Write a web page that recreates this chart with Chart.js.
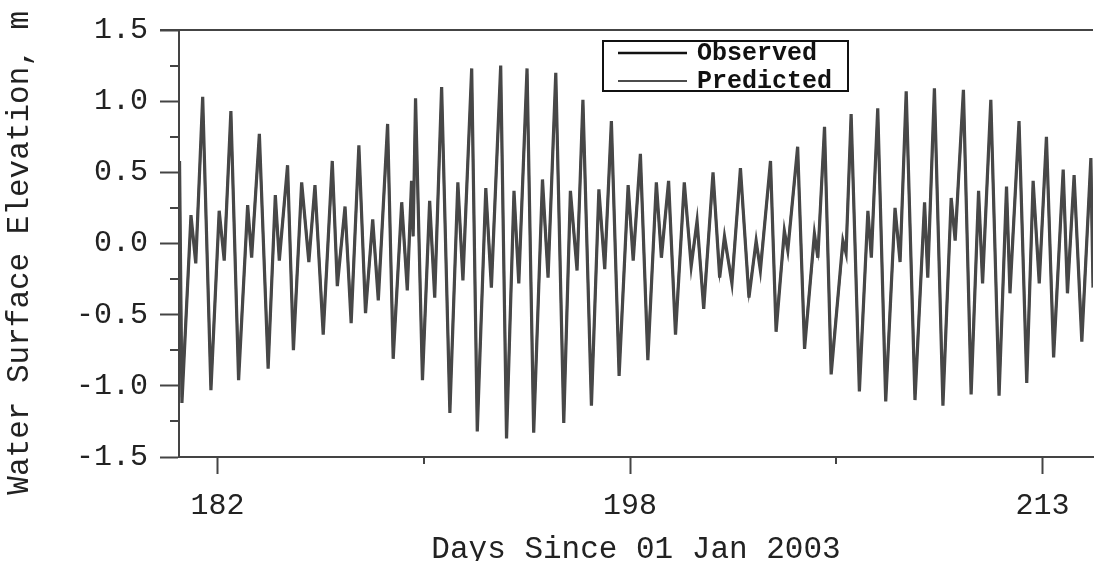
<!DOCTYPE html>
<html>
<head>
<meta charset="utf-8">
<title>Water Surface Elevation</title>
<script src="https://cdn.jsdelivr.net/npm/chart.js@4.4.1/dist/chart.umd.min.js"></script>
<style>
  html, body { margin: 0; padding: 0; background: #fff; }
  #wrap { width: 1094px; height: 561px; position: relative; }
</style>
</head>
<body>
<div id="wrap"><canvas id="tide"></canvas></div>
<script>
// tidal extremes (day of year 2003, metres)
const days = [
  180.57, 180.66, 181.00, 181.18, 181.44, 181.75, 182.06, 182.25, 182.50, 182.79,
  183.13, 183.28, 183.57, 183.90, 184.17, 184.32, 184.63, 184.85, 185.16, 185.43,
  185.66, 185.97, 186.31, 186.50, 186.79, 187.02, 187.31, 187.56, 187.83, 188.04,
  188.39, 188.60, 188.92, 189.13, 189.29, 189.35, 189.44, 189.70, 189.97, 190.16,
  190.42, 190.73, 191.03, 191.22, 191.55, 191.76, 192.08, 192.29, 192.64, 192.86,
  193.14, 193.32, 193.63, 193.88, 194.21, 194.42, 194.71, 195.01, 195.26, 195.51,
  195.73, 196.05, 196.33, 196.55, 196.80, 197.09, 197.43, 197.62, 197.89, 198.17,
  198.49, 198.68, 198.95, 199.21, 199.54, 199.80, 200.02, 200.27, 200.62, 200.87,
  201.05, 201.33, 201.65, 201.97, 202.24, 202.40, 202.78, 202.99, 203.30, 203.43,
  203.80, 204.06, 204.43, 204.56, 204.81, 205.06, 205.50, 205.62, 205.81, 206.12,
  206.44, 206.57, 206.81, 207.11, 207.46, 207.65, 207.88, 208.21, 208.57, 208.69,
  208.94, 209.26, 209.57, 209.72, 210.03, 210.32, 210.60, 210.75, 211.06, 211.37,
  211.65, 211.78, 212.12, 212.41, 212.65, 212.88, 213.15, 213.42, 213.78, 213.94,
  214.19, 214.48, 214.82, 214.90
];

const observed = [
   0.58, -1.12,  0.20, -0.14,  1.03, -1.03,  0.23, -0.12,  0.93, -0.96,
   0.27, -0.10,  0.77, -0.88,  0.34, -0.12,  0.55, -0.75,  0.43, -0.13,
   0.41, -0.64,  0.58, -0.30,  0.26, -0.56,  0.69, -0.49,  0.17, -0.40,
   0.84, -0.81,  0.29, -0.33,  0.44,  0.05,  1.02, -0.96,  0.30, -0.38,
   1.10, -1.19,  0.43, -0.26,  1.23, -1.32,  0.39, -0.31,  1.25, -1.37,
   0.37, -0.28,  1.23, -1.33,  0.45, -0.24,  1.20, -1.26,  0.37, -0.19,
   1.01, -1.14,  0.38, -0.18,  0.86, -0.93,  0.41, -0.12,  0.63, -0.82,
   0.43, -0.10,  0.44, -0.64,  0.43, -0.16,  0.16, -0.46,  0.50, -0.24,
   0.05, -0.28,  0.53, -0.38,  0.02, -0.19,  0.58, -0.62,  0.09, -0.05,
   0.68, -0.74,  0.07, -0.10,  0.82, -0.92,  0.02, -0.07,  0.91, -1.04,
   0.23, -0.10,  0.95, -1.11,  0.25, -0.13,  1.07, -1.10,  0.29, -0.24,
   1.09, -1.14,  0.32,  0.02,  1.08, -1.06,  0.37, -0.28,  1.01, -1.07,
   0.40, -0.35,  0.86, -0.98,  0.44, -0.28,  0.75, -0.80,  0.52, -0.35,
   0.48, -0.69,  0.60, -0.31
];

const predicted = [
   0.50, -1.08,  0.17, -0.10,  0.98, -1.00,  0.20, -0.08,  0.90, -0.92,
   0.24, -0.06,  0.74, -0.85,  0.30, -0.09,  0.52, -0.70,  0.40, -0.10,
   0.38, -0.60,  0.55, -0.26,  0.24, -0.52,  0.66, -0.46,  0.14, -0.36,
   0.80, -0.77,  0.26, -0.30,  0.40,  0.10,  0.97, -0.93,  0.27, -0.34,
   1.06, -1.15,  0.40, -0.22,  1.19, -1.27,  0.36, -0.27,  1.21, -1.32,
   0.34, -0.25,  1.19, -1.29,  0.41, -0.21,  1.16, -1.22,  0.34, -0.16,
   0.98, -1.10,  0.35, -0.15,  0.83, -0.89,  0.38, -0.09,  0.60, -0.78,
   0.40, -0.07,  0.41, -0.60,  0.40, -0.13,  0.13, -0.42,  0.47, -0.21,
   0.02, -0.25,  0.50, -0.35,  0.00, -0.16,  0.55, -0.58,  0.06, -0.02,
   0.65, -0.70,  0.04, -0.07,  0.79, -0.88, -0.01, -0.04,  0.88, -1.00,
   0.20, -0.07,  0.92, -1.07,  0.22, -0.10,  1.03, -1.06,  0.26, -0.21,
   1.05, -1.10,  0.29,  0.05,  1.04, -1.02,  0.34, -0.25,  0.97, -1.03,
   0.37, -0.31,  0.83, -0.94,  0.41, -0.25,  0.72, -0.76,  0.49, -0.32,
   0.45, -0.65,  0.57, -0.28
];

const xLabelTicks = [182, 197.5, 213];
const xMinorTicks = [189.75, 205.25];
const yMinorTicks = [-1.25, -0.75, -0.25, 0.25, 0.75, 1.25];

const mono = "'Liberation Mono', 'DejaVu Sans Mono', monospace";
const ink = '#444';

// short ticks between the labelled ones, plus the top frame line
const frame = {
  id: 'frame',
  afterDraw(chart) {
    const {ctx, chartArea, scales} = chart;
    ctx.save();
    ctx.strokeStyle = ink;
    ctx.lineWidth = 2;
    ctx.beginPath();
    ctx.moveTo(chartArea.left - 19, chartArea.top);
    ctx.lineTo(chartArea.right, chartArea.top);
    yMinorTicks.forEach(v => {
      const y = Math.round(scales.y.getPixelForValue(v));
      ctx.moveTo(chartArea.left - 9, y);
      ctx.lineTo(chartArea.left, y);
    });
    xMinorTicks.forEach(v => {
      const x = Math.round(scales.x.getPixelForValue(v));
      ctx.moveTo(x, chartArea.bottom);
      ctx.lineTo(x, chartArea.bottom + 7);
    });
    ctx.stroke();
    ctx.restore();
  }
};

// boxed legend in the upper middle
const boxLegend = {
  id: 'boxLegend',
  afterDraw(chart) {
    const ctx = chart.ctx;
    const x0 = 603, y0 = 41, w = 245, h = 50;
    ctx.save();
    ctx.fillStyle = '#fff';
    ctx.fillRect(x0, y0, w, h);
    ctx.strokeStyle = '#111';
    ctx.lineWidth = 2;
    ctx.strokeRect(x0, y0, w, h);
    chart.data.datasets.forEach((ds, i) => {
      const y = y0 + 12 + i * 28;
      ctx.strokeStyle = '#111';
      ctx.lineWidth = i === 0 ? 2.5 : 1.5;
      ctx.beginPath();
      ctx.moveTo(x0 + 15, y);
      ctx.lineTo(x0 + 84, y);
      ctx.stroke();
      ctx.fillStyle = '#111';
      ctx.font = 'bold 25px ' + mono;
      ctx.textBaseline = 'middle';
      ctx.fillText(ds.label, x0 + 94, y + 1);
    });
    ctx.restore();
  }
};

new Chart(document.getElementById('tide'), {
  type: 'line',
  data: {
    datasets: [
      {
        label: 'Observed',
        data: days.map((d, i) => ({x: d, y: observed[i]})),
        borderColor: '#474747',
        borderWidth: 3.2,
        pointRadius: 0,
        tension: 0
      },
      {
        label: 'Predicted',
        data: days.map((d, i) => ({x: d, y: predicted[i]})),
        borderColor: '#505050',
        borderWidth: 2.2,
        pointRadius: 0,
        tension: 0
      }
    ]
  },
  options: {
    responsive: true,
    maintainAspectRatio: false,
    animation: false,
    layout: { padding: { left: 0, top: 26, right: 1, bottom: 0 } },
    plugins: {
      legend: { display: false },
      tooltip: { enabled: false }
    },
    scales: {
      x: {
        type: 'linear',
        min: 180.55,
        max: 214.9,
        afterFit: s => { s.height = 104; },
        afterBuildTicks: s => { s.ticks = xLabelTicks.map(v => ({value: v})); },
        border: { display: true, color: ink, width: 2 },
        grid: { drawOnChartArea: false, tickLength: 17, tickWidth: 2, tickColor: ink },
        ticks: {
          autoSkip: false,
          maxRotation: 0,
          padding: 14,
          color: '#222',
          font: { family: mono, size: 30 },
          callback: v => String(Math.round(v))
        },
        title: {
          display: true,
          text: 'Days Since 01 Jan 2003',
          color: '#222',
          font: { family: mono, size: 31, lineHeight: 0.7 },
          padding: { top: 0, bottom: 0 }
        }
      },
      y: {
        min: -1.5,
        max: 1.5,
        afterFit: s => { s.width = 179; },
        border: { display: true, color: ink, width: 2 },
        grid: { drawOnChartArea: false, tickLength: 19, tickWidth: 2, tickColor: ink },
        ticks: {
          stepSize: 0.5,
          padding: 12,
          color: '#222',
          font: { family: mono, size: 30 },
          callback: v => v.toFixed(1)
        },
        title: {
          display: true,
          text: 'Water Surface Elevation, m ',
          color: '#222',
          font: { family: mono, size: 31, lineHeight: 1.2 },
          padding: { top: 1, bottom: 0 }
        }
      }
    }
  },
  plugins: [frame, boxLegend]
});
</script>
</body>
</html>
